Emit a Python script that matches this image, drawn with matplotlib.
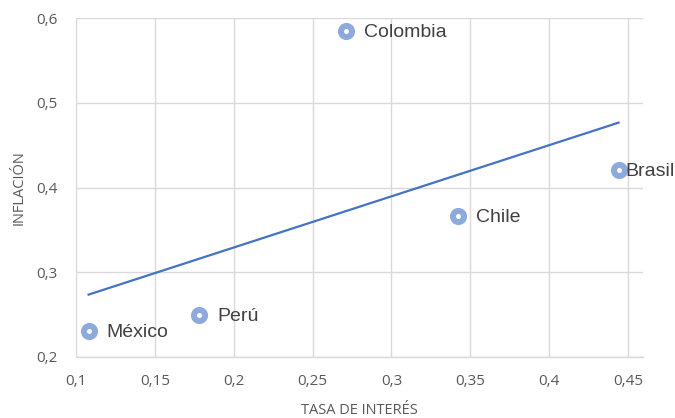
import numpy as np
import matplotlib
matplotlib.use("Agg")
import matplotlib.pyplot as plt
from matplotlib.ticker import FuncFormatter

paises = ["México", "Perú", "Colombia", "Chile", "Brasil"]
tasa_interes = [0.108, 0.178, 0.271, 0.342, 0.444]
inflacion = [0.231, 0.250, 0.585, 0.366, 0.421]
x_ticks = [0.1, 0.15, 0.2, 0.25, 0.3, 0.35, 0.4, 0.45]
y_ticks = [0.2, 0.3, 0.4, 0.5, 0.6]

grid_color = "#D9D9D9"
text_color = "#595959"
label_color = "#404040"
marker_color = "#8EA9DB"
line_color = "#4472C4"

fig = plt.figure(figsize=(6.75, 4.18), dpi=100)
ax = fig.add_axes([76 / 675, 1 - 357 / 418, (643 - 76) / 675, (357 - 18) / 418])

ax.set_xlim(0.1, 0.4595)
ax.set_ylim(0.2, 0.6)
ax.set_xticks(x_ticks)
ax.set_yticks(y_ticks)

fmt = FuncFormatter(lambda v, _: ("%g" % round(v, 3)).replace(".", ","))
ax.xaxis.set_major_formatter(fmt)
ax.yaxis.set_major_formatter(fmt)

ax.grid(True, color=grid_color, linewidth=1.0)
ax.set_axisbelow(True)
for side in ["top", "right", "left"]:
    ax.spines[side].set_visible(False)
ax.spines["bottom"].set_color(grid_color)
ax.spines["bottom"].set_linewidth(1.0)
ax.tick_params(axis="both", length=0, labelsize=11, labelcolor=text_color)
ax.tick_params(axis="x", pad=12)
ax.tick_params(axis="y", pad=13)
for lab in ax.get_xticklabels() + ax.get_yticklabels():
    lab.set_family("Open Sans")

# linear trend line over the data range
slope, intercept = np.polyfit(tasa_interes, inflacion, 1)
xs = np.array([min(tasa_interes), max(tasa_interes)])
ax.plot(xs, slope * xs + intercept, color=line_color, linewidth=1.6, zorder=2)

ax.plot(tasa_interes, inflacion, linestyle="none", marker="o", markersize=8.0,
        markerfacecolor="white", markeredgecolor=marker_color, markeredgewidth=4.3,
        zorder=3)

offsets = {"Brasil": 5}
for name, xv, yv in zip(paises, tasa_interes, inflacion):
    ax.annotate(name, (xv, yv), xytext=(offsets.get(name, 13), -1),
                textcoords="offset points", ha="left", va="center",
                fontsize=14, color=label_color, family="Liberation Sans",
                zorder=4, annotation_clip=False)

ax.set_xlabel("TASA DE INTERÉS", fontsize=10.5, color=text_color,
              family="Open Sans", labelpad=10)
ax.set_ylabel("INFLACIÓN", fontsize=10.5, color=text_color,
              family="Open Sans", labelpad=7)

fig.savefig("out.png", dpi=100)
